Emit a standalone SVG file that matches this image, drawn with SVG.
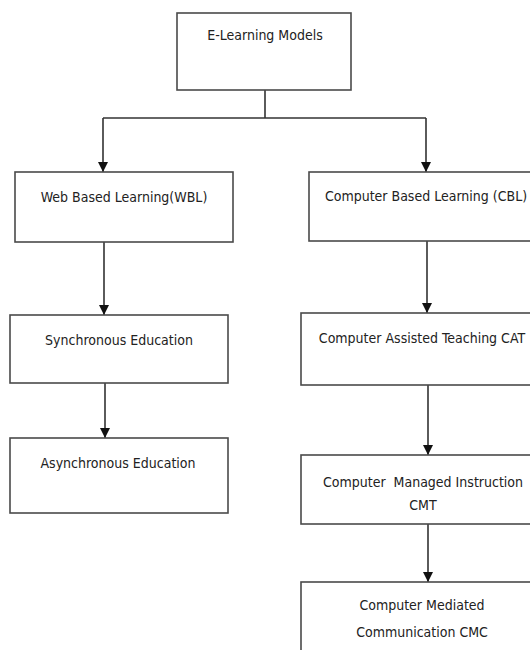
<svg xmlns="http://www.w3.org/2000/svg" width="530" height="650" viewBox="0 0 530 650">
<style>
.box{fill:#fff;stroke:#4a4a4a;stroke-width:1.6}
.lbl{font-family:"Liberation Sans Narrow","DejaVu Sans Condensed",sans-serif;font-size:14px;fill:#222;text-anchor:middle}
.con{fill:none;stroke:#333;stroke-width:1.6}
</style>
<defs>
<marker id="ah" markerUnits="userSpaceOnUse" markerWidth="10" markerHeight="12" refX="10" refY="5" orient="auto">
<path d="M0,0 L10,5 L0,10 Z" fill="#111"/>
</marker>
</defs>
<rect width="530" height="650" fill="#fff"/>
<g id="connectors">
<path class="con" d="M265,90 V118"/>
<path class="con" d="M103,118 H426"/>
<path class="con" d="M103,118 V172" marker-end="url(#ah)"/>
<path class="con" d="M426,118 V172" marker-end="url(#ah)"/>
<path class="con" d="M104,242 V315" marker-end="url(#ah)"/>
<path class="con" d="M105,383 V438" marker-end="url(#ah)"/>
<path class="con" d="M427,241 V313" marker-end="url(#ah)"/>
<path class="con" d="M428,385 V455" marker-end="url(#ah)"/>
<path class="con" d="M428,524 V582" marker-end="url(#ah)"/>
</g>
<g id="elearning">
<rect class="box" x="177" y="13" width="174" height="77"/>
<text class="lbl" x="265" y="40">E-Learning Models</text>
</g>
<g id="wbl">
<rect class="box" x="15" y="172" width="218" height="70"/>
<text class="lbl" x="124" y="202">Web Based Learning(WBL)</text>
</g>
<g id="cbl">
<rect class="box" x="309" y="172" width="240" height="69"/>
<text class="lbl" x="426" y="201">Computer Based Learning (CBL)</text>
</g>
<g id="sync">
<rect class="box" x="10" y="315" width="218" height="68"/>
<text class="lbl" x="119" y="345">Synchronous Education</text>
</g>
<g id="async">
<rect class="box" x="10" y="438" width="218" height="75"/>
<text class="lbl" x="118" y="468">Asynchronous Education</text>
</g>
<g id="cat">
<rect class="box" x="301" y="313" width="248" height="72"/>
<text class="lbl" x="422" y="343">Computer Assisted Teaching CAT</text>
</g>
<g id="cmt">
<rect class="box" x="301" y="455" width="248" height="69"/>
<text class="lbl" x="423" y="487" xml:space="preserve">Computer  Managed Instruction</text>
<text class="lbl" x="423" y="510">CMT</text>
</g>
<g id="cmc">
<rect class="box" x="301" y="582" width="248" height="80"/>
<text class="lbl" x="422" y="610">Computer Mediated</text>
<text class="lbl" x="422" y="637">Communication CMC</text>
</g>
</svg>
